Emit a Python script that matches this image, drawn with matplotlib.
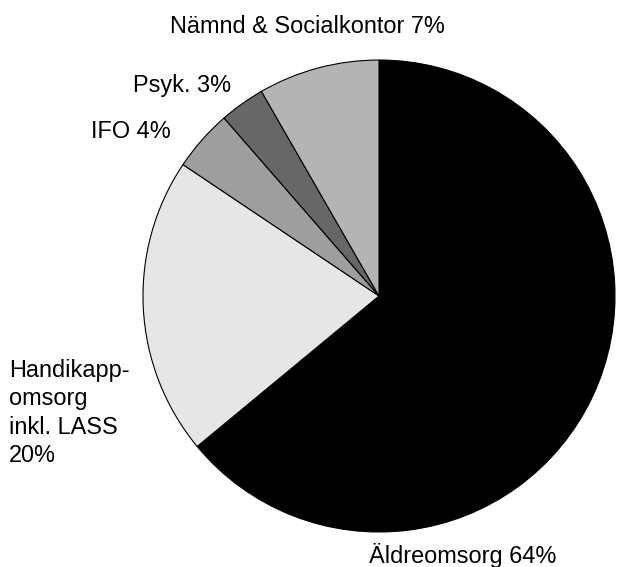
import matplotlib.pyplot as plt

labels = ['Äldreomsorg 64%', 'Handikapp-\nomsorg\ninkl. LASS\n20%', 'IFO 4%', 'Psyk. 3%',
          'Nämnd & Socialkontor 7%']
shares = [64.0, 20.4, 4.2, 3.1, 8.3]
colors = ['#000000', '#e6e6e6', '#9d9ea0', '#666769', '#b3b4b6']

plt.rcParams['font.family'] = ['Liberation Sans', 'DejaVu Sans']

W, H = 617, 567
fig = plt.figure(figsize=(W / 100, H / 100), dpi=100)
cx, cy, r = 379, 296, 236
ax = fig.add_axes([(cx - r) / W, (H - cy - r) / H, 2 * r / W, 2 * r / H])
ax.pie(shares, colors=colors, startangle=90, counterclock=False,
       wedgeprops=dict(edgecolor='black', linewidth=0.8))
ax.set_xlim(-1.0, 1.0)
ax.set_ylim(-1.0, 1.0)
ax.set_aspect('equal')
ax.axis('off')

# label anchor in pixels: left x, baseline y of first line, line step
pos = [(369, 563), (9, 377), (91, 138), (133, 92), (170, 33)]
step = 28.3
for lab, (x, y) in zip(labels, pos):
    for i, line in enumerate(lab.split('\n')):
        fig.text(x / W, 1 - (y + i * step) / H, line, ha='left', va='baseline', fontsize=16.9)

plt.savefig('out.png', dpi=100)
